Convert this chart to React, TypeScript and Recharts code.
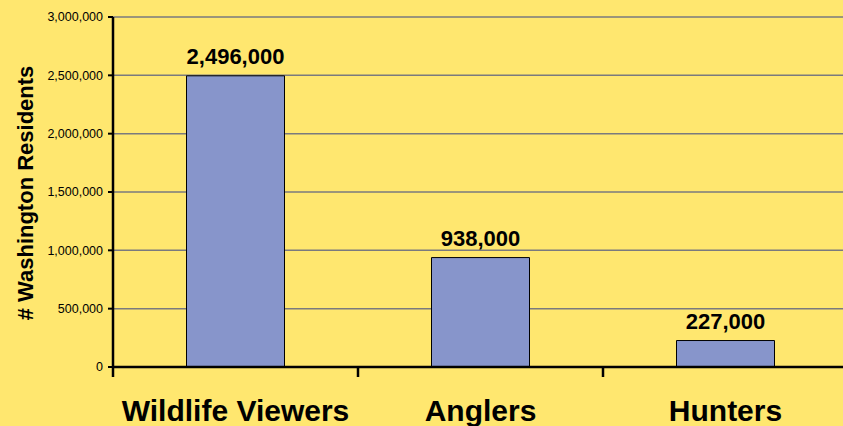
import { BarChart, Bar, XAxis, YAxis, CartesianGrid, LabelList } from 'recharts';

const categories = ['Wildlife Viewers', 'Anglers', 'Hunters'];
const residents = [2496000, 938000, 227000];
const yTicks = [0, 500000, 1000000, 1500000, 2000000, 2500000, 3000000];

const data = categories.map((name, i) => ({ name, residents: residents[i] }));

const fmt = (v: number) => Number(v).toLocaleString('en-US');
const FONT = 'Arial, "Liberation Sans", sans-serif';
const X_TICK_MARGIN = 33;

// category label plus the boundary tick marks between categories
function CategoryTick(props: any) {
  const { x, y, payload, index, visibleTicksCount } = props;
  const half = payload?.offset ?? 0;
  const axisY = y - X_TICK_MARGIN;
  const isLast = index === visibleTicksCount - 1;
  return (
    <g>
      <line x1={x - half} x2={x - half} y1={axisY} y2={axisY + 10} stroke="#000" strokeWidth={2.5} />
      {isLast && (
        <line x1={x + half} x2={x + half} y1={axisY} y2={axisY + 10} stroke="#000" strokeWidth={2.5} />
      )}
      <text
        x={x}
        y={y}
        dy="0.71em"
        textAnchor="middle"
        fontSize={30}
        fontWeight="bold"
        fontFamily={FONT}
        fill="#000"
      >
        {payload.value}
      </text>
    </g>
  );
}

export default function App() {
  return (
    <div
      style={{
        position: 'absolute',
        left: 0,
        top: 0,
        width: 843,
        height: 426,
        overflow: 'hidden',
        background: '#FFE76F',
        fontFamily: FONT,
      }}
    >
      <BarChart
        width={860}
        height={426}
        data={data}
        margin={{ top: 17, right: 12, left: 0, bottom: 0 }}
        barCategoryGap="30%"
      >
        <CartesianGrid vertical={false} stroke="#7A7A7E" strokeWidth={1.5} />
        <XAxis
          dataKey="name"
          height={59}
          tickLine={false}
          tickSize={0}
          tickMargin={X_TICK_MARGIN}
          axisLine={{ stroke: '#000', strokeWidth: 2.5 }}
          tick={<CategoryTick />}
          interval={0}
        />
        <YAxis
          width={113}
          domain={[0, 3000000]}
          ticks={yTicks}
          interval={0}
          tickFormatter={fmt}
          tickSize={5}
          tickMargin={5}
          axisLine={{ stroke: '#000', strokeWidth: 2.5 }}
          tickLine={{ stroke: '#000', strokeWidth: 2 }}
          tick={{ fontSize: 12.5, fill: '#000', fontFamily: FONT }}
          label={{
            content: () => (
              <text
                x={33}
                y={193}
                transform="rotate(-90 33 193)"
                textAnchor="middle"
                fontSize={22}
                fontWeight="bold"
                fontFamily={FONT}
                fill="#000"
              >
                # Washington Residents
              </text>
            ),
          }}
        />
        <Bar dataKey="residents" fill="#8795CB" stroke="#000" strokeWidth={1} isAnimationActive={false}>
          <LabelList
            dataKey="residents"
            position="top"
            offset={12}
            formatter={(v: any) => fmt(v)}
            style={{ fontSize: 22, fontWeight: 'bold', fill: '#000', fontFamily: FONT }}
          />
        </Bar>
      </BarChart>
    </div>
  );
}
